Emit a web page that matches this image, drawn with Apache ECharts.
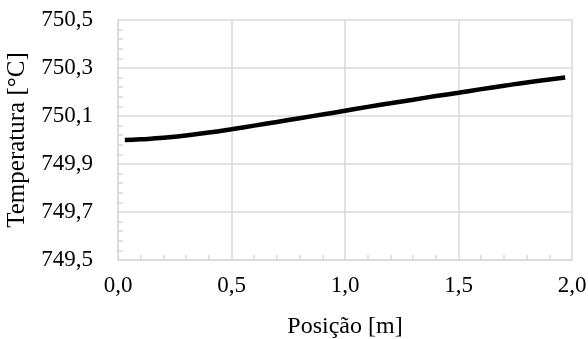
<!DOCTYPE html>
<html>
<head>
<meta charset="utf-8">
<script src="https://cdn.jsdelivr.net/npm/echarts@6/dist/echarts.min.js"></script>
<style>
  html, body { margin: 0; padding: 0; background: #fff; }
  #chart { width: 588px; height: 339px; }
</style>
</head>
<body>
<div id="chart"></div>
<script>
// posição ao longo do tubo [m] e temperatura [°C]
const posicao = [0.03, 0.1, 0.2, 0.3, 0.4, 0.5, 0.6, 0.7, 0.8, 0.9, 1.0, 1.1, 1.2, 1.3, 1.4, 1.5, 1.6, 1.7, 1.8, 1.9, 1.97];
const temperatura = [750.000, 750.003, 750.009, 750.019, 750.031, 750.045, 750.060, 750.075, 750.091, 750.106, 750.122,
  750.138, 750.153, 750.168, 750.183, 750.197, 750.212, 750.226, 750.240, 750.252, 750.260];

const fmt = (v) => v.toFixed(1).replace(".", ",");
const gridColor = "#d9d9d9";
const font = "Liberation Serif";

const chart = echarts.init(document.getElementById("chart"), null, { renderer: "canvas" });

chart.setOption({
  animation: false,
  backgroundColor: "#fff",
  grid: { left: 118, right: 16, top: 20, bottom: 79, outerBoundsMode: "none" },
  xAxis: {
    type: "value",
    min: 0,
    max: 2,
    interval: 0.5,
    name: "Posição [m]",
    nameLocation: "middle",
    nameGap: 55,
    nameTextStyle: { fontFamily: font, fontSize: 24, color: "#000" },
    axisLine: { lineStyle: { color: gridColor, width: 1.5 } },
    axisTick: { show: false, inside: true },
    minorTick: { show: true, splitNumber: 5, length: 5, lineStyle: { color: gridColor, width: 1.5 } },
    splitLine: { show: true, lineStyle: { color: gridColor, width: 1.5 } },
    axisLabel: { formatter: fmt, fontFamily: font, fontSize: 23, color: "#000", margin: 14 },
  },
  yAxis: {
    type: "value",
    min: 749.5,
    max: 750.5,
    interval: 0.2,
    name: "Temperatura [°C]",
    nameLocation: "middle",
    nameRotate: 90,
    nameGap: 86,
    nameTextStyle: { fontFamily: font, fontSize: 25, color: "#000" },
    axisLine: { show: true, lineStyle: { color: gridColor, width: 1.5 } },
    axisTick: { show: false, inside: true },
    minorTick: { show: true, splitNumber: 5, length: 5, lineStyle: { color: gridColor, width: 1.5 } },
    splitLine: { show: true, lineStyle: { color: gridColor, width: 1.5 } },
    axisLabel: { formatter: fmt, fontFamily: font, fontSize: 23, color: "#000", margin: 25 },
  },
  series: [
    {
      type: "line",
      data: posicao.map((x, i) => [x, temperatura[i]]),
      smooth: true,
      showSymbol: false,
      lineStyle: { color: "#000", width: 4.5 },
    },
  ],
});
</script>
</body>
</html>
